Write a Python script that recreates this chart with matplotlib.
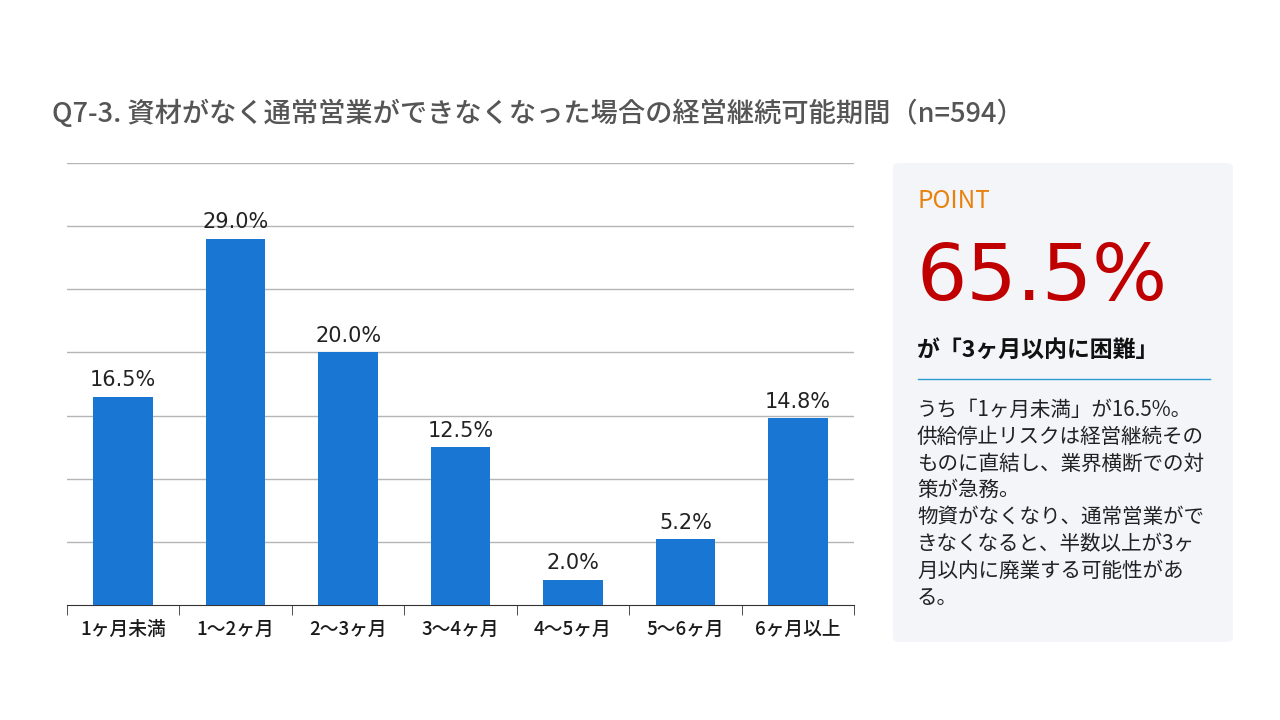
import matplotlib
matplotlib.use("Agg")
import matplotlib.pyplot as plt
from matplotlib.patches import FancyBboxPatch
import numpy as np

plt.rcParams['font.family'] = ['Noto Sans CJK JP', 'DejaVu Sans']

categories = ['1ヶ月未満', '1～2ヶ月', '2～3ヶ月', '3～4ヶ月', '4～5ヶ月', '5～6ヶ月', '6ヶ月以上']
values = [16.5, 29.0, 20.0, 12.5, 2.0, 5.2, 14.8]

title = 'Q7-3. 資材がなく通常営業ができなくなった場合の経営継続可能期間（n=594）'
point_big = '65.5%'
point_sub = 'が「3ヶ月以内に困難」'
point_body = ['うち「1ヶ月未満」が16.5%。',
              '供給停止リスクは経営継続その',
              'ものに直結し、業界横断での対',
              '策が急務。',
              '物資がなくなり、通常営業がで',
              'きなくなると、半数以上が3ヶ',
              '月以内に廃業する可能性があ',
              'る。']

W, H = 1280, 720
fig = plt.figure(figsize=(12.8, 7.2), dpi=100)
fig.patch.set_facecolor('white')

def fx(px):
    return px / W

def fy(py):
    return 1 - py / H

# title
fig.text(fx(52), fy(114), title, fontsize=19.6, color='#555555', fontweight='medium',
         ha='left', va='center')

# bar chart
ax = fig.add_axes([fx(67), fy(605), fx(854) - fx(67), fy(163) - fy(605)])
x = np.arange(len(categories))
ax.bar(x, values, width=0.53, color='#1976d2', zorder=3)
ax.set_xlim(-0.5, len(categories) - 0.5)
ax.set_ylim(0, 35)
ax.set_yticks(np.arange(5, 36, 5))
ax.yaxis.grid(True, color='#b5b5b5', linewidth=1)
ax.tick_params(axis='y', left=False, labelleft=False)
for s in ['top', 'right', 'left']:
    ax.spines[s].set_visible(False)
ax.spines['bottom'].set_color('#333333')
ax.set_xticks(x)
ax.set_xticklabels(categories, fontsize=13.5, color='#1a1a1a', fontweight='medium')
ax.tick_params(axis='x', length=0, pad=11)
ax.set_xticks(np.arange(-0.5, len(categories), 1), minor=True)
ax.tick_params(axis='x', which='minor', length=7, color='#333333')
for xi, v in zip(x, values):
    ax.text(xi, v + 1.3, f'{v:.1f}%', ha='center', va='center', fontsize=15,
            color='#222222', family=['DejaVu Sans'])

# point panel
panel = FancyBboxPatch((fx(893), fy(642)), fx(1233) - fx(893), fy(163) - fy(642),
                       boxstyle='round,pad=0,rounding_size=0.006',
                       transform=fig.transFigure, facecolor='#f3f5f9', edgecolor='none')
fig.add_artist(panel)
fig.text(fx(917), fy(201), 'POINT', fontsize=17.5, color='#e8820c', ha='left', va='center')
fig.text(fx(917), fy(278), point_big, fontsize=57, color='#c00000', ha='left', va='center',
         family=['DejaVu Sans'])
fig.text(fx(917), fy(350), point_sub, fontsize=16.5, color='#111111', fontweight='bold',
         ha='left', va='center')
fig.add_artist(plt.Line2D([fx(918), fx(1210)], [fy(379), fy(379)], transform=fig.transFigure,
                          color='#2e9ad0', linewidth=1))
for i, line in enumerate(point_body):
    fig.text(fx(917), fy(410 + i * 26.8), line, fontsize=14.8, color='#222222',
             ha='left', va='center')

fig.savefig('out.png', dpi=100)
